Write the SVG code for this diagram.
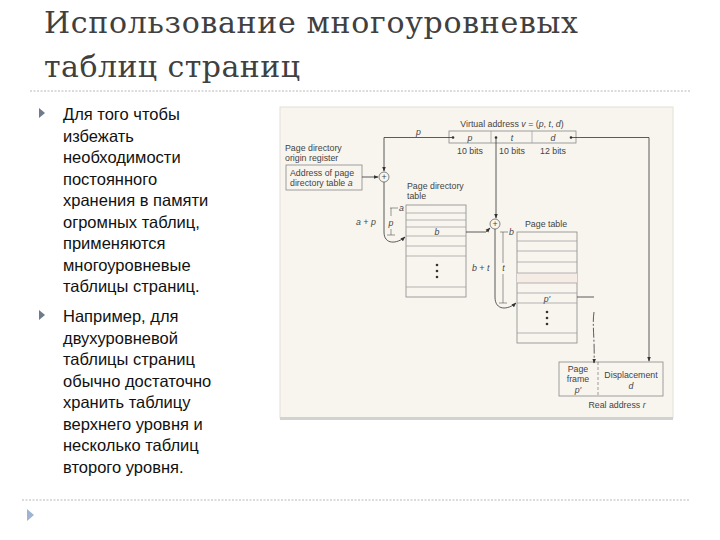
<svg xmlns="http://www.w3.org/2000/svg" width="720" height="540" viewBox="0 0 720 540">
<defs>
<marker id="ah" viewBox="0 0 8 8" refX="7" refY="4" markerWidth="5" markerHeight="5" orient="auto" markerUnits="userSpaceOnUse"><path d="M0,1 L8,4 L0,7 Z" fill="#333"/></marker>
<style>
.title{font-family:"DejaVu Serif","Liberation Serif",serif;font-size:30px;fill:#404040}
.body{font-family:"Liberation Sans",Arial,sans-serif;font-size:16.5px;fill:#111}
.sep{stroke:#b8b8b8;stroke-width:1;stroke-dasharray:2 1.5;fill:none}
.bul{fill:#6f7a8c}
.ft{font-family:"Liberation Sans",Arial,sans-serif;font-size:8.8px;fill:#444}
.it{font-style:italic}
.mid{text-anchor:middle}
.box{fill:none;stroke:#888;stroke-width:0.8}
.row{stroke:#999;stroke-width:0.7}
.ln{fill:none;stroke:#333;stroke-width:0.8}
.dim{fill:none;stroke:#555;stroke-width:0.6}
.dot{fill:#333}
</style>
</defs>
<rect width="720" height="540" fill="#ffffff"/>
<g id="title">
<text class="title" x="44" y="33" textLength="534" lengthAdjust="spacing">Использование многоуровневых</text>
<text class="title" x="44" y="77" textLength="256" lengthAdjust="spacing">таблиц страниц</text>
<line class="sep" x1="30" y1="91" x2="690" y2="91"/>
</g>
<g id="bullets">
<path class="bul" d="M39,108 L45,113 L39,118 Z"/>
<text class="body" x="63">
<tspan x="63" y="120">Для того чтобы</tspan>
<tspan x="63" y="141.5">избежать</tspan>
<tspan x="63" y="163">необходимости</tspan>
<tspan x="63" y="184.5">постоянного</tspan>
<tspan x="63" y="206">хранения в памяти</tspan>
<tspan x="63" y="227.5">огромных таблиц,</tspan>
<tspan x="63" y="249">применяются</tspan>
<tspan x="63" y="270.5">многоуровневые</tspan>
<tspan x="63" y="292">таблицы страниц.</tspan>
</text>
<path class="bul" d="M39,310 L45,315 L39,320 Z"/>
<text class="body" x="63">
<tspan x="63" y="322">Например, для</tspan>
<tspan x="63" y="343.5">двухуровневой</tspan>
<tspan x="63" y="365">таблицы страниц</tspan>
<tspan x="63" y="386.5">обычно достаточно</tspan>
<tspan x="63" y="408">хранить таблицу</tspan>
<tspan x="63" y="429.5">верхнего уровня и</tspan>
<tspan x="63" y="451">несколько таблиц</tspan>
<tspan x="63" y="472.5">второго уровня.</tspan>
</text>
</g>
<g id="footer">
<line class="sep" x1="22" y1="500" x2="690" y2="500"/>
<path d="M27,509 L34,515 L27,521 Z" fill="#9fb4d3"/>
</g>
<g id="figure">
<rect x="280" y="107" width="393" height="311" fill="#f8f5ee" stroke="#e4e0d8" stroke-width="1"/>
<rect x="280" y="417" width="393" height="3" fill="#d2d2d2"/>
</g>
<g id="virtual-address">
<text class="ft" x="512" y="127" text-anchor="middle">Virtual address <tspan class="it">v</tspan> = (<tspan class="it">p</tspan>, <tspan class="it">t</tspan>, <tspan class="it">d</tspan>)</text>
<rect class="box" x="449" y="131" width="127" height="12"/>
<line class="row" x1="491" y1="131" x2="491" y2="143"/>
<line class="row" x1="532" y1="131" x2="532" y2="143"/>
<text class="ft it mid" x="470" y="140.5">p</text>
<text class="ft it mid" x="512" y="140.5">t</text>
<text class="ft it mid" x="553" y="140.5">d</text>
<text class="ft mid" x="470" y="154">10 bits</text>
<text class="ft mid" x="512" y="154">10 bits</text>
<text class="ft mid" x="553" y="154">12 bits</text>
<circle class="dot" cx="453" cy="137.5" r="1.3"/>
<circle class="dot" cx="496" cy="137.5" r="1.3"/>
<circle class="dot" cx="571" cy="137.5" r="1.3"/>
</g>
<g id="origin-register">
<text class="ft" x="285" y="151">Page directory</text>
<text class="ft" x="285" y="160.5">origin register</text>
<rect class="box" x="286" y="165" width="76" height="25"/>
<text class="ft" x="290" y="176">Address of page</text>
<text class="ft" x="290" y="186">directory table <tspan class="it">a</tspan></text>
</g>
<g id="adder-1">
<circle cx="384" cy="177" r="5" fill="#f8f5ee" stroke="#555" stroke-width="0.7"/>
<text class="ft mid" x="384" y="180">+</text>
</g>
<g id="page-directory-table">
<text class="ft" x="407" y="189">Page directory</text>
<text class="ft" x="407" y="199">table</text>
<rect class="box" x="406" y="205" width="60" height="92"/>
<line class="row" x1="406" y1="213" x2="466" y2="213"/>
<line class="row" x1="406" y1="220" x2="466" y2="220"/>
<line class="row" x1="406" y1="227" x2="466" y2="227"/>
<line class="row" x1="406" y1="236" x2="466" y2="236"/>
<line class="row" x1="406" y1="246" x2="466" y2="246"/>
<line class="row" x1="406" y1="256" x2="466" y2="256"/>
<line class="row" x1="406" y1="287" x2="466" y2="287"/>
<text class="ft it mid" x="437" y="234.5">b</text>
<circle class="dot" cx="437" cy="265" r="1.3"/>
<circle class="dot" cx="437" cy="271" r="1.3"/>
<circle class="dot" cx="437" cy="277" r="1.3"/>
<text class="ft it" x="356" y="225">a + p</text>
<path class="dim" d="M390,208 H398 M391,208 V216 M391,229 V235 M387,235 H395"/>
<text class="ft it" x="399" y="211">a</text>
<text class="ft it mid" x="391" y="226">p</text>
</g>
<g id="adder-2">
<circle cx="495" cy="224" r="5" fill="#f8f5ee" stroke="#555" stroke-width="0.7"/>
<text class="ft mid" x="495" y="227">+</text>
</g>
<g id="page-table">
<text class="ft" x="525" y="227">Page table</text>
<rect class="box" x="517" y="232" width="60" height="111"/>
<rect x="517" y="273" width="60" height="10" fill="#f6ece6"/>
<line class="row" x1="517" y1="241" x2="577" y2="241"/>
<line class="row" x1="517" y1="251" x2="577" y2="251"/>
<line class="row" x1="517" y1="262" x2="577" y2="262"/>
<line class="row" x1="517" y1="273" x2="577" y2="273"/>
<line class="row" x1="517" y1="283" x2="577" y2="283"/>
<line class="row" x1="517" y1="293" x2="577" y2="293"/>
<line class="row" x1="517" y1="303" x2="577" y2="303"/>
<line class="row" x1="517" y1="333" x2="577" y2="333"/>
<text class="ft it mid" x="547" y="301.5">p'</text>
<circle class="dot" cx="547" cy="312" r="1.3"/>
<circle class="dot" cx="547" cy="318" r="1.3"/>
<circle class="dot" cx="547" cy="324" r="1.3"/>
<text class="ft it" x="509" y="235">b</text>
<text class="ft it" x="472" y="271">b + t</text>
<path class="dim" d="M500,232 H508 M503,232 V263 M503,274 V303 M499,303 H507"/>
<text class="ft it mid" x="503.5" y="271">t</text>
</g>
<g id="real-address">
<rect class="box" x="559" y="362" width="104" height="34"/>
<line x1="598" y1="362" x2="598" y2="396" stroke="#777" stroke-width="0.7" stroke-dasharray="3 2"/>
<text class="ft mid" x="578" y="372">Page</text>
<text class="ft mid" x="578" y="382">frame</text>
<text class="ft it mid" x="578" y="392.5">p'</text>
<text class="ft mid" x="631" y="378">Displacement</text>
<text class="ft it mid" x="631" y="389">d</text>
<text class="ft mid" x="617" y="408">Real address <tspan class="it">r</tspan></text>
</g>
<g id="connectors">
<path class="ln" d="M453,137.5 H384 V171" marker-end="url(#ah)"/>
<text class="ft it" x="416" y="135">p</text>
<path class="ln" d="M362,177 H378" marker-end="url(#ah)"/>
<path class="ln" d="M384,182 V232 C384,245 397,244 405,237" marker-end="url(#ah)"/>
<path class="ln" d="M466,232 H486 L490,228" marker-end="url(#ah)"/>
<path class="ln" d="M496,137.5 V218" marker-end="url(#ah)"/>
<path class="ln" d="M495,229 V297 C495,311 508,310 516,303" marker-end="url(#ah)"/>
<path class="ln" d="M577,297 H594"/>
<path class="ln" d="M594,312 C592,325 595,340 594,363" marker-end="url(#ah)" stroke-dasharray="10 2 2 2"/>
<path class="ln" d="M571,137.5 H649 V361" marker-end="url(#ah)"/>
</g>
</svg>
